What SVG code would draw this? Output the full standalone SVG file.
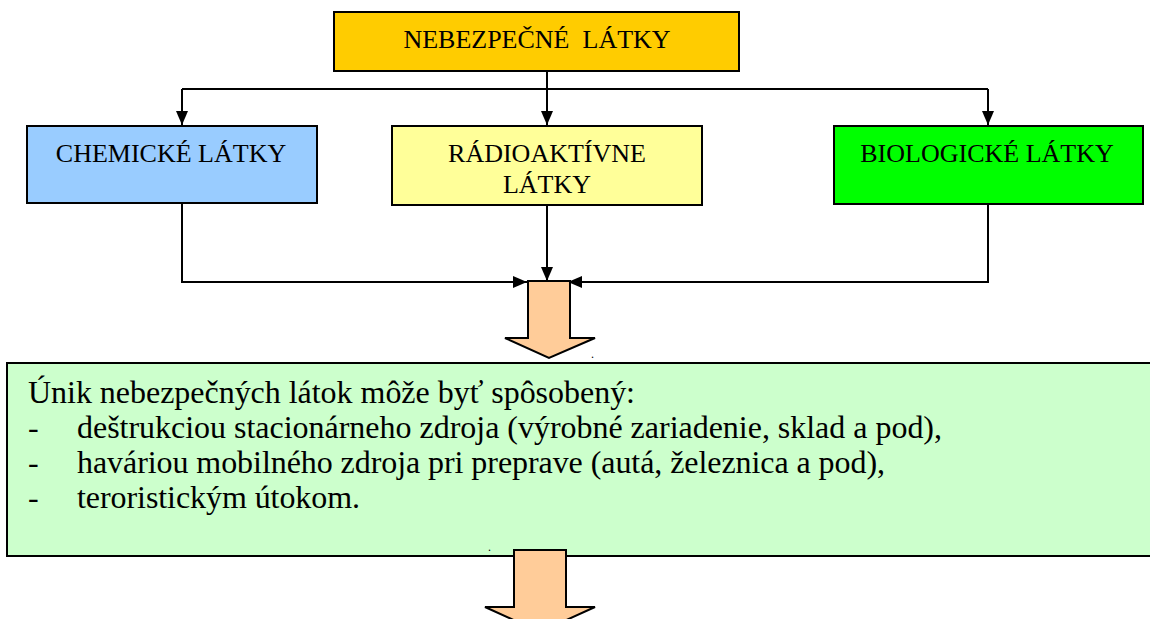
<svg xmlns="http://www.w3.org/2000/svg" width="1150" height="619" viewBox="0 0 1150 619">
<defs>
<style>
.box{stroke:#000;stroke-width:2}
.lbl{font-family:"Liberation Serif","Times New Roman",serif;font-size:26px;fill:#000;text-anchor:middle}
.body{font-family:"Liberation Serif","Times New Roman",serif;font-size:32px;fill:#000}
.con{fill:none;stroke:#000;stroke-width:2}
.blk{fill:#FFCC99;stroke:#000;stroke-width:2;stroke-linejoin:miter}
.dot{font-family:"Liberation Serif","Times New Roman",serif;font-size:12px;fill:#000}
</style>
<marker id="ah" markerWidth="14" markerHeight="12" refX="14" refY="6" orient="auto" markerUnits="userSpaceOnUse">
<path d="M0,0 L14,6 L0,12 Z" fill="#000"/>
</marker>
</defs>
<rect width="1150" height="619" fill="#fff"/>
<g id="connectors">
<path class="con" d="M547,71 V89"/>
<path class="con" d="M182,89 H988"/>
<path class="con" d="M182,89 V125" marker-end="url(#ah)"/>
<path class="con" d="M547,89 V125" marker-end="url(#ah)"/>
<path class="con" d="M988,89 V125" marker-end="url(#ah)"/>
<path class="con" d="M182,204 V282 H527" marker-end="url(#ah)"/>
<path class="con" d="M547,205 V281" marker-end="url(#ah)"/>
<path class="con" d="M988,204 V282 H568" marker-end="url(#ah)"/>
</g>
<g id="nebezpecne">
<rect class="box" x="334" y="12" width="405" height="59" fill="#FFCC00"/>
<text class="lbl" x="537" y="48" xml:space="preserve">NEBEZPEČNÉ  LÁTKY</text>
</g>
<g id="chemicke">
<rect class="box" x="27" y="126" width="290" height="77" fill="#99CCFF"/>
<text class="lbl" x="171" y="162">CHEMICKÉ LÁTKY</text>
</g>
<g id="radioaktivne">
<rect class="box" x="392" y="126" width="310" height="79" fill="#FFFF99"/>
<text class="lbl" x="547" y="162">RÁDIOAKTÍVNE</text>
<text class="lbl" x="547" y="193">LÁTKY</text>
</g>
<g id="biologicke">
<rect class="box" x="834" y="126" width="309" height="78" fill="#00FF00"/>
<text class="lbl" x="987" y="162">BIOLOGICKÉ LÁTKY</text>
</g>
<g id="arrow1">
<path class="blk" d="M528,281 H570 V338 H595 L549,358 L505,338 H528 Z"/>
<text class="dot" x="591" y="358">.</text>
</g>
<g id="unik">
<rect class="box" x="7" y="363" width="1150" height="193" fill="#CCFFCC"/>
<text class="body" x="28" y="403" textLength="607" lengthAdjust="spacing">Únik nebezpečných látok môže byť spôsobený:</text>
<text class="body" x="28" y="438">-</text>
<text class="body" x="77" y="438" textLength="865" lengthAdjust="spacing">deštrukciou stacionárneho zdroja (výrobné zariadenie, sklad a pod),</text>
<text class="body" x="28" y="473">-</text>
<text class="body" x="77" y="473" textLength="808" lengthAdjust="spacing">haváriou mobilného zdroja pri preprave (autá, železnica a pod),</text>
<text class="body" x="28" y="508">-</text>
<text class="body" x="77" y="508" textLength="283" lengthAdjust="spacing">teroristickým útokom.</text>
<text class="dot" x="488" y="551">.</text>
</g>
<g id="arrow2">
<path class="blk" d="M514,550 H566 V607 H595 L540,632 L485,607 H514 Z"/>
</g>
</svg>
